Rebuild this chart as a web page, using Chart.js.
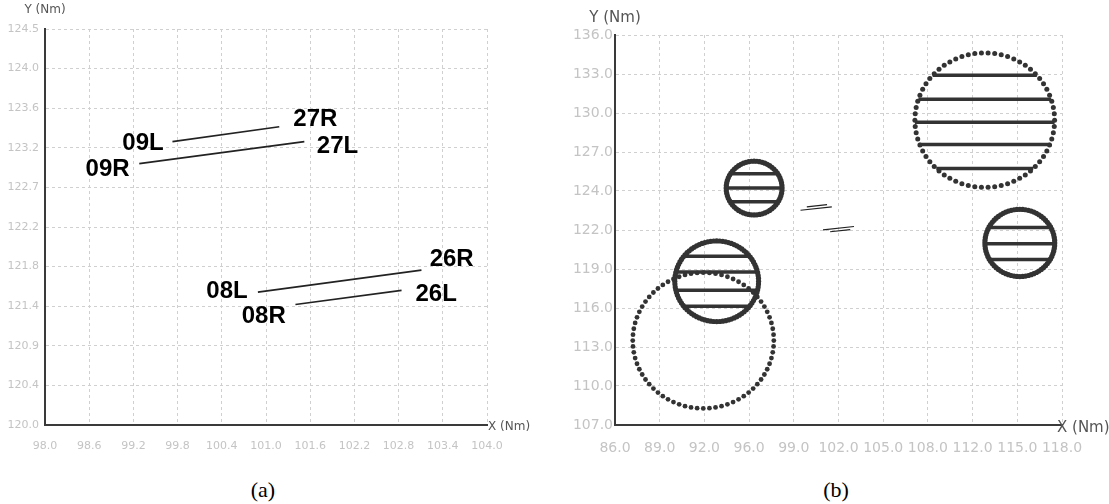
<!DOCTYPE html>
<html>
<head>
<meta charset="utf-8">
<script src="https://cdn.jsdelivr.net/npm/chart.js@4.4.1/dist/chart.umd.min.js"></script>
<style>
  body { margin: 0; background: #fff; width: 1109px; height: 504px; position: relative; overflow: hidden; }
  canvas { position: absolute; top: 0; }
  #grafico-a { left: 0; }
  #grafico-b { left: 555px; }
  .caption { position: absolute; top: 478px; width: 60px; text-align: center; line-height: 24px;
             font-family: "Liberation Serif", serif; font-size: 22px; color: #000; }
</style>
</head>
<body>
<canvas id="grafico-a" width="555" height="470"></canvas>
<canvas id="grafico-b" width="554" height="470"></canvas>
<div class="caption" style="left:233px">(a)</div>
<div class="caption" style="left:806px">(b)</div>
<script>
// Pistas (extremos en Nm) (a)
const pistasX1 = [99.73, 99.28, 100.89, 101.40];
const pistasY1 = [123.22, 122.97, 121.51, 121.37];
const pistasX2 = [101.18, 101.52, 103.11, 102.84];
const pistasY2 = [123.39, 123.22, 121.76, 121.53];

// Etiquetas de las cabeceras
const etiquetas = ['09L', '27R', '09R', '27L', '08L', '26R', '08R', '26L'];
const etiquetasX = [99.33, 101.67, 98.85, 101.97, 100.47, 103.52, 100.97, 103.31];
const etiquetasY = [123.20, 123.47, 122.91, 123.17, 121.52, 121.88, 121.23, 121.49];

// Marcas de los ejes
const ticksXA = ['98.0', '98.6', '99.2', '99.8', '100.4', '101.0', '101.6', '102.2', '102.8', '103.4', '104.0'];
const ticksYA = ['120.0', '120.4', '120.9', '121.4', '121.8', '122.2', '122.7', '123.2', '123.6', '124.0', '124.5'];
const ticksXB = ['86.0', '89.0', '92.0', '96.0', '99.0', '102.0', '105.0', '108.0', '112.0', '115.0', '118.0'];
const ticksYB = ['107.0', '110.0', '113.0', '116.0', '119.0', '122.0', '124.0', '127.0', '130.0', '133.0', '136.0'];

// Circulos del grafico (b): centro, radio (Nm), numero de puntos y tamaño del punto
const circulosX = [112.47, 95.96, 114.98, 93.28, 92.32];
const circulosY = [129.67, 124.62, 120.54, 117.69, 113.28];
const circulosR = [5.0, 2.0, 2.5, 3.0, 5.05];
const circulosPuntos = [66, 64, 76, 88, 72];
const circulosTamano = [2.5, 2.6, 2.6, 2.6, 2.4];

// Lineas horizontales dentro de cada circulo (valor Y en Nm)
const cuerdasC1 = [133.0, 131.23, 129.52, 127.86, 126.07];
const cuerdasC2 = [125.68, 124.62, 123.6];
const cuerdasC3 = [121.69, 120.48, 119.30];
const cuerdasC4 = [119.54, 118.38, 117.02, 115.83];
const cuerdas = [cuerdasC1, cuerdasC2, cuerdasC3, cuerdasC4, []];

const colorTexto = '#555';
const colorTicks = '#c4c4c4';
const colorGrid = '#d0d0d0';

// Datasets de pistas (reutilizados en ambos graficos)
const datasetsPistas = (ancho) => pistasX1.map((x, i) => ({
  type: 'scatter',
  showLine: true,
  data: [{ x: x, y: pistasY1[i] }, { x: pistasX2[i], y: pistasY2[i] }],
  borderColor: '#222',
  borderWidth: ancho,
  pointRadius: 0
}));

// Configuracion comun de un eje lineal
const eje = (min, max, paso, etiquetasEje, fuente, relleno, ajuste) => ({
  type: 'linear',
  min: min,
  max: max,
  afterFit: ajuste,
  grid: { color: colorGrid, lineWidth: 1, drawTicks: false },
  border: { display: true, color: '#3a3a3a', width: 2, dash: [3, 3] },
  ticks: {
    stepSize: paso,
    autoSkip: false,
    maxRotation: 0,
    padding: relleno,
    color: colorTicks,
    font: { family: 'DejaVu Sans', size: fuente },
    callback: (v, i) => etiquetasEje[i]
  }
});

// Titulos de ejes dibujados sobre el canvas
const titulosEjes = (tamano, yTitulo, dxX, dyX) => ({
  id: 'titulos',
  afterDraw(chart) {
    const { ctx, chartArea } = chart;
    ctx.save();
    ctx.fillStyle = colorTexto;
    ctx.font = `${tamano}px "DejaVu Sans"`;
    ctx.textBaseline = 'middle';
    ctx.textAlign = 'center';
    ctx.fillText('Y (Nm)', chartArea.left, yTitulo);
    ctx.textAlign = 'left';
    ctx.fillText('X (Nm)', chartArea.right + dxX, chartArea.bottom + dyX);
    ctx.restore();
  }
});

// Etiquetas de cabeceras en el grafico (a)
const pluginEtiquetas = {
  id: 'etiquetas',
  afterDatasetsDraw(chart) {
    const { ctx, scales } = chart;
    ctx.save();
    ctx.fillStyle = '#000';
    ctx.font = 'bold 24px "Liberation Sans"';
    ctx.textAlign = 'center';
    ctx.textBaseline = 'middle';
    etiquetas.forEach((t, i) => {
      ctx.fillText(t, scales.x.getPixelForValue(etiquetasX[i]), scales.y.getPixelForValue(etiquetasY[i]));
    });
    ctx.restore();
  }
};

// Grafico (a)
new Chart(document.querySelector('#grafico-a'), {
  type: 'scatter',
  data: { datasets: datasetsPistas(1.6) },
  options: {
    responsive: false,
    animation: false,
    layout: { padding: { left: 0, top: 29, right: 68, bottom: 0 } },
    plugins: { legend: { display: false }, tooltip: { enabled: false } },
    scales: {
      x: eje(98, 104, 0.6, ticksXA, 11, 15, (s) => { s.height = 45; }),
      y: eje(120, 124.5, 0.45, ticksYA, 11, 6, (s) => { s.width = 45; })
    }
  },
  plugins: [pluginEtiquetas, titulosEjes(12, 10, 1, 2)]
});

// Puntos de un circulo a partir de su centro y radio
const puntosCirculo = (i) => {
  const pts = [];
  for (let k = 0; k < circulosPuntos[i]; k++) {
    const a = 2 * Math.PI * k / circulosPuntos[i];
    pts.push({ x: circulosX[i] + circulosR[i] * Math.cos(a), y: circulosY[i] + circulosR[i] * Math.sin(a) });
  }
  return pts;
};

const datasetsB = datasetsPistas(1.2);
circulosX.forEach((cx, i) => {
  datasetsB.push({
    type: 'scatter',
    data: puntosCirculo(i),
    pointRadius: circulosTamano[i],
    pointBackgroundColor: '#333',
    pointBorderWidth: 0
  });
  cuerdas[i].forEach((y) => {
    const dy = y - circulosY[i];
    const media = Math.sqrt(Math.max(circulosR[i] * circulosR[i] - dy * dy, 0));
    datasetsB.push({
      type: 'scatter',
      showLine: true,
      data: [{ x: cx - media, y: y }, { x: cx + media, y: y }],
      borderColor: '#333',
      borderWidth: 3.5,
      pointRadius: 0
    });
  });
});

// Grafico (b)
new Chart(document.querySelector('#grafico-b'), {
  type: 'scatter',
  data: { datasets: datasetsB },
  options: {
    responsive: false,
    animation: false,
    layout: { padding: { left: 0, top: 35, right: 47, bottom: 0 } },
    plugins: { legend: { display: false }, tooltip: { enabled: false } },
    scales: {
      x: eje(86, 118, 3.2, ticksXB, 14, 15, (s) => { s.height = 45; }),
      y: eje(107, 136, 2.9, ticksYB, 14, 2, (s) => { s.width = 60; })
    }
  },
  plugins: [titulosEjes(15, 18, -5, 3)]
});
</script>
</body>
</html>
